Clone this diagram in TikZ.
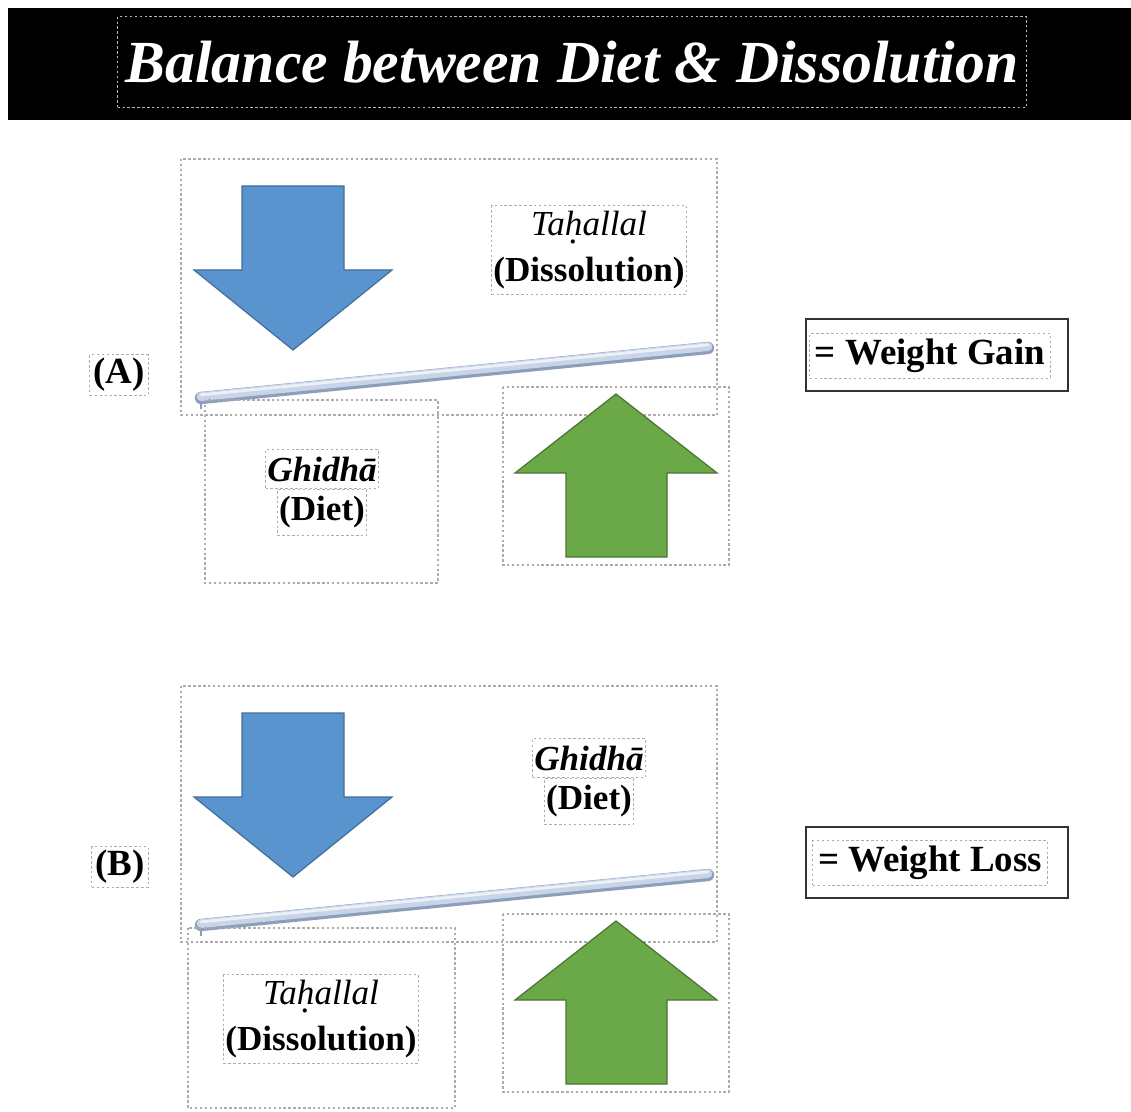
\documentclass[tikz,border=0pt]{standalone}
\usepackage{fontspec}
\setmainfont{Liberation Serif}
\usetikzlibrary{positioning}

\definecolor{arrowblue}{RGB}{90,148,207}
\definecolor{arrowgreen}{RGB}{106,168,72}
\definecolor{beamblue}{RGB}{200,213,232}
\definecolor{beamdark}{RGB}{140,158,185}

% dot below h (Tahallal)
\newcommand{\hdotb}{{\ooalign{h\cr\hidewidth\smash{\raisebox{-0.5ex}{.}}\hidewidth\cr}}}

\begin{document}
\begin{tikzpicture}[x=0.02cm, y=-0.02cm,
    dotbox/.style={draw=gray!65, dash pattern=on 1.4pt off 1.4pt, line width=0.6pt},
    termtext/.style={dotbox, align=center, inner xsep=1pt, inner ysep=3pt, font=\fontsize{20}{26}\selectfont\bfseries},
    wordbox/.style={dotbox, inner xsep=1pt, inner ysep=4pt, font=\fontsize{20}{24}\selectfont\bfseries},
    tagbox/.style={dotbox, inner sep=2pt, font=\fontsize{21}{24}\selectfont\bfseries},
    resultbox/.style={dotbox, inner sep=3pt, font=\fontsize{21}{24}\selectfont\bfseries},
    downarrow/.style={fill=arrowblue, draw=arrowblue!75!black, line width=0.7pt, line join=miter},
    uparrow/.style={fill=arrowgreen, draw=arrowgreen!70!black, line width=0.7pt, line join=miter}
]
    \useasboundingbox[fill=white] (0,0) rectangle (1131,1111);

    % title
    \fill[black] (8,8) rectangle (1131,120);
    \node[dotbox, draw=gray!55, minimum width=18.18cm, minimum height=1.82cm,
        text=white, font=\fontsize{34}{40}\selectfont\bfseries\itshape] (title) at (572,62)
        {Balance between Diet \& Dissolution};

    % both balances
    \foreach \dy in {0,527} {
        \draw[dotbox] (181,159+\dy) rectangle (717,415+\dy);
        \draw[dotbox] (503,387+\dy) rectangle (729,565+\dy);
        \draw[downarrow] (242,186+\dy) -- (344,186+\dy) -- (344,270+\dy) -- (392,270+\dy)
            -- (293,350+\dy) -- (194,270+\dy) -- (242,270+\dy) -- cycle;
        \draw[uparrow] (566,557+\dy) -- (667,557+\dy) -- (667,473+\dy) -- (717,473+\dy)
            -- (616,394+\dy) -- (515,473+\dy) -- (566,473+\dy) -- cycle;
        \coordinate (bl) at (201,398+\dy);
        \coordinate (br) at (708,348+\dy);
        \draw[beamdark, line width=7pt, line cap=round] (bl) -- (br);
        \draw[beamblue, line width=5pt, line cap=round] ([yshift=0.8pt]bl) -- ([yshift=0.8pt]br);
        \draw[white!65!beamblue, line width=1.6pt, line cap=round] ([yshift=1.8pt]bl) -- ([yshift=1.8pt]br);
        \draw[beamdark, line width=1pt] ([yshift=-2pt]bl) -- ([yshift=-6pt]bl);
    }

    % (A)
    \node[tagbox] (tagA) at (119,375) {(A)};
    \node[termtext] (tahA) at (589,250) {\textmd{\itshape Ta\hdotb allal}\\(Dissolution)};
    \draw[dotbox] (205,400) rectangle (438,583);
    \node[wordbox, font=\fontsize{20}{24}\selectfont\bfseries\itshape] (ghiA) at (322,469) {Ghidhā};
    \node[wordbox, below=0pt of ghiA] (dietA) {(Diet)};
    \draw[line width=1.2pt, black!80] (806,319) rectangle (1068,391);
    \node[resultbox] (gain) at (930,356) {= Weight Gain};

    % (B)
    \node[tagbox] (tagB) at (120,867) {(B)};
    \node[wordbox, font=\fontsize{20}{24}\selectfont\bfseries\itshape] (ghiB) at (589,758) {Ghidhā};
    \node[wordbox, below=0pt of ghiB] (dietB) {(Diet)};
    \draw[dotbox] (188,928) rectangle (455,1108);
    \node[termtext] (tahB) at (321,1019) {\textmd{\itshape Ta\hdotb allal}\\(Dissolution)};
    \draw[line width=1.2pt, black!80] (806,827) rectangle (1068,898);
    \node[resultbox] (loss) at (930,863) {= Weight Loss};
\end{tikzpicture}
\end{document}
